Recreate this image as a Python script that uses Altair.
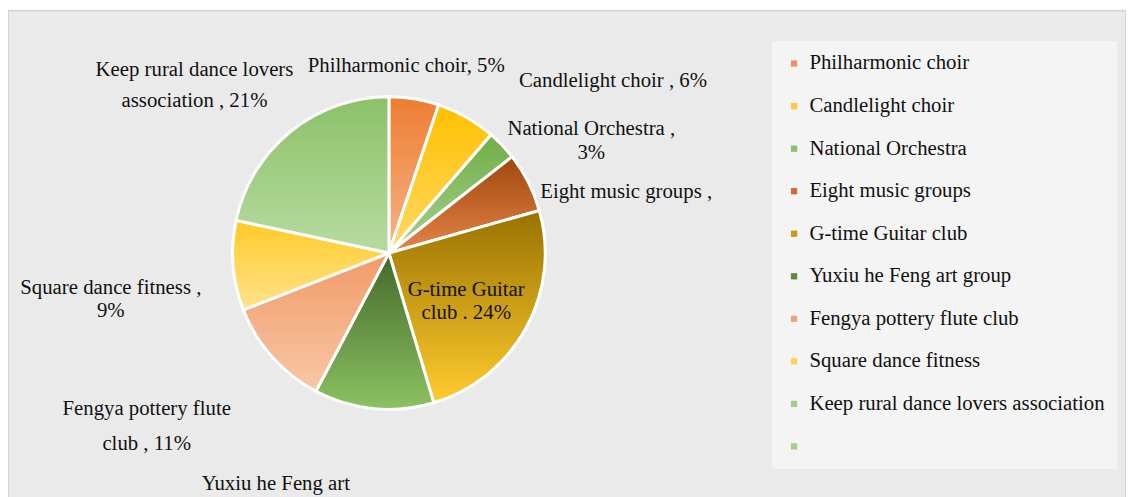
import altair as alt
import pandas as pd

categories = [
    "Philharmonic choir",
    "Candlelight choir",
    "National Orchestra",
    "Eight music groups",
    "G-time Guitar club",
    "Yuxiu he Feng art group",
    "Fengya pottery flute club",
    "Square dance fitness",
    "Keep rural dance lovers association",
]
values = [5, 6, 3, 6, 24, 12, 11, 9, 21]
label_texts = [
    "Philharmonic choir, 5%",
    "Candlelight choir , 6%",
    "National Orchestra  ,\n3%",
    "Eight music groups ,",
    "G-time Guitar\nclub . 24%",
    "Yuxiu he Feng art\ngroup , 12%",
    "Fengya pottery flute\nclub  , 11%",
    "Square dance fitness ,\n9%",
    "Keep rural dance lovers\nassociation , 21%",
]
legend_labels = [
    "Philharmonic  choir",
    "Candlelight    choir",
    "National  Orchestra",
    "Eight music groups",
    "G-time Guitar club",
    "Yuxiu he Feng art group",
    "Fengya pottery flute club",
    "Square dance fitness",
    "Keep rural dance lovers association",
    " ",
]

# styles (not data)
grad_top = ["#ED7D31", "#FFC000", "#70AD47", "#9E480E", "#997300", "#43682B", "#F19B68", "#FFCA28", "#8CC168"]
grad_bot = ["#F5B48A", "#FFD966", "#A9D18E", "#E58447", "#FFCB2F", "#8CC262", "#F8C7A7", "#FFE38C", "#B7DBA1"]
legend_colors = ["#F0905A", "#FFC83A", "#8CC068", "#D06A30", "#C89A10", "#5E8A3A", "#F2A478", "#FFD24D", "#A2CE88", "#A2CE88"]
label_style = [
    dict(r=189, dx=-13, dy=-2, align="center", lh=25),
    dict(r=215, dx=25, dy=13, align="left", lh=25),
    dict(r=230, dx=38, dy=33, align="center", lh=25),
    dict(r=167, dx=4, dy=14, align="left", lh=25),
    dict(r=88, dx=1, dy=-5, align="center", lh=23),
    dict(r=250, dx=-90, dy=-15, align="center", lh=32),
    dict(r=300, dx=-21, dy=-42, align="center", lh=35),
    dict(r=285, dx=3, dy=12, align="center", lh=24),
    dict(r=260, dx=-33, dy=17, align="center", lh=32),
]
CX, CY, R = 385, 245, 158
FONT = "Liberation Serif"
FS = 21

df = pd.DataFrame({
    "idx": list(range(len(categories))),
    "category": categories,
    "legend": legend_labels[: len(categories)],
    "value": values,
    "label": label_texts,
})

theta_scale = alt.Scale(domain=[0, 1], range=[0, 6.283185307179586])

base = (
    alt.Chart(df)
    .transform_window(cum="sum(value)", sort=[alt.SortField("idx")], frame=[None, 0])
    .transform_joinaggregate(total="sum(value)")
    .transform_calculate(
        start="(datum.cum - datum.value) / datum.total",
        end="datum.cum / datum.total",
        mid="(datum.cum - datum.value / 2) / datum.total",
    )
)

layers = []
for i, cat in enumerate(categories):
    grad = alt.Gradient(
        gradient="linear",
        stops=[alt.GradientStop(color=grad_top[i], offset=0), alt.GradientStop(color=grad_bot[i], offset=1)],
        x1=0, x2=0, y1=0, y2=1,
    )
    arc = (
        base.transform_filter(alt.datum.category == cat)
        .mark_arc(fill=grad, stroke="white", strokeWidth=3, outerRadius=R)
        .encode(
            theta=alt.Theta("start:Q", scale=theta_scale),
            theta2="end:Q",
            x=alt.value(CX),
            y=alt.value(CY),
        )
    )
    layers.append(arc)

legend_layer = base.mark_point(opacity=0, filled=True, shape="square").encode(
    color=alt.Color(
        "legend:N",
        scale=alt.Scale(domain=legend_labels, range=legend_colors),
        legend=alt.Legend(
            title=None,
            orient="none",
            legendX=772,
            legendY=31,
            padding=12,
            fillColor="#F4F4F4",
            symbolType="square",
            symbolSize=40,
            symbolOpacity=1,
            symbolStrokeWidth=0,
            labelFont=FONT,
            labelFontSize=FS,
            labelColor="#111111",
            labelLimit=500,
            rowPadding=21,
            labelOffset=5,
        ),
    ),
    x=alt.value(CX),
    y=alt.value(CY),
)
layers.append(legend_layer)

for i, cat in enumerate(categories):
    s = label_style[i]
    txt = (
        base.transform_filter(alt.datum.category == cat)
        .mark_text(
            radius=s["r"], dx=s["dx"], dy=s["dy"], align=s["align"], baseline="middle",
            lineBreak="\n", lineHeight=s["lh"], font=FONT, fontSize=FS, color="#111111",
        )
        .encode(
            theta=alt.Theta("mid:Q", scale=theta_scale),
            text="label:N",
            x=alt.value(CX),
            y=alt.value(CY),
        )
    )
    layers.append(txt)

chart = (
    alt.layer(*layers)
    .properties(width=1130, height=495, autosize=alt.AutoSizeParams(type="none"), padding=0)
    .configure(background="white", view=alt.ViewConfig(fill="#EAEAEA", stroke="#D6D6D6", strokeWidth=2))
)

chart.save("out.html", embed_options={"renderer": "svg", "actions": False})
